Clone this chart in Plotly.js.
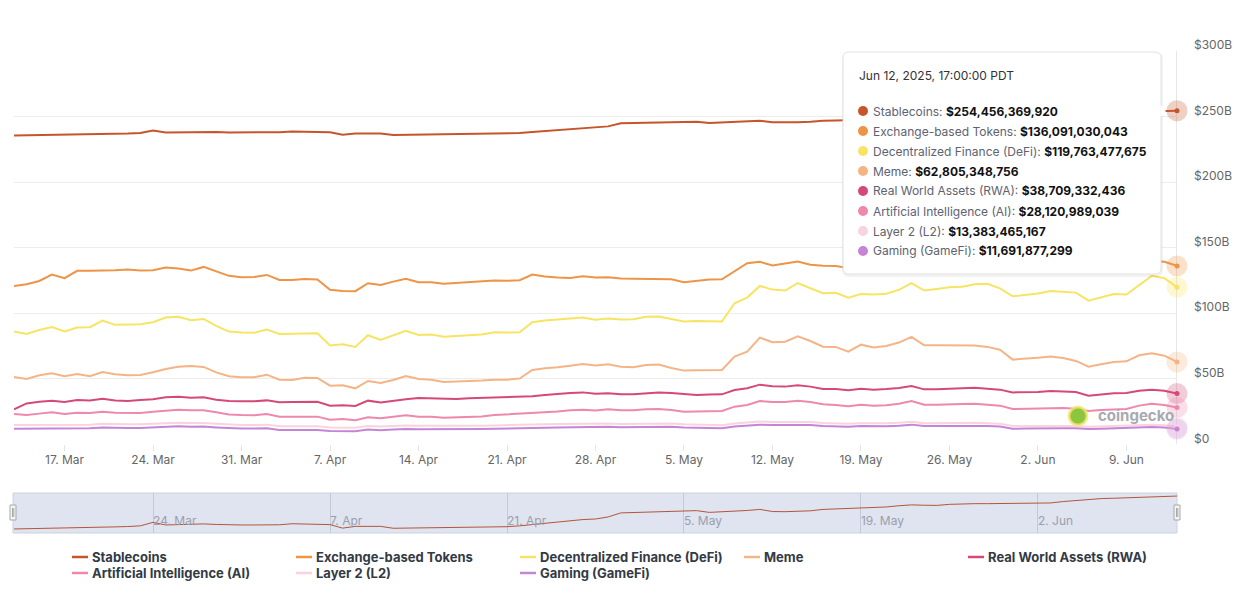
<!DOCTYPE html>
<html>
<head>
<meta charset="utf-8">
<script src="https://cdn.plot.ly/plotly-3.0.1.min.js"></script>
<style>
html,body{margin:0;padding:0;background:#ffffff;}
#chart{width:1244px;height:600px;}
</style>
</head>
<body>
<div id="chart"></div>
<script>
// ---------------- DATA (values in billions USD, daily 00:00 UTC from 13 Mar 2025) ----------------
const startDate = [2025, 2, 13];
const seriesNames = ['Stablecoins', 'Exchange-based Tokens', 'Decentralized Finance (DeFi)', 'Meme',
  'Real World Assets (RWA)', 'Artificial Intelligence (AI)', 'Layer 2 (L2)', 'Gaming (GameFi)'];
const seriesColors = ['#c5552b', '#ee9446', '#f7e463', '#f5b486', '#d4497a', '#ee88ad', '#fad3de', '#c585d6'];

const stablecoins = [
  235.6, 235.7, 235.8, 235.9, 236.0, 236.2, 236.4, 236.6, 236.8, 237.0,
  237.4, 239.4, 237.9, 238.1, 238.3, 238.5, 238.2, 237.9, 237.9, 237.9,
  237.9, 238.0, 238.6, 238.3, 238.1, 238.1, 236.1, 237.1, 237.1, 237.1,
  236.0, 236.1, 236.1, 236.4, 236.6, 236.7, 236.9, 236.8, 236.8, 236.9,
  237.4, 238.2, 238.9, 239.6, 240.3, 241.0, 241.3, 242.5, 244.8, 245.0,
  245.3, 245.8, 246.0, 246.1, 246.1, 245.1, 245.4, 246.0, 246.2, 246.8,
  245.6, 245.5, 245.6, 246.0, 246.8, 247.0, 247.2, 247.5, 247.6, 248.2,
  248.9, 249.4, 249.2, 249.1, 249.7, 250.0, 250.1, 250.1, 250.2, 250.3,
  250.3, 250.4, 250.5, 251.3, 252.0, 252.6, 253.0, 253.2, 253.4, 253.8,
  254.0, 254.2, 254.45636992];

const exchangeTokens = [
  120.8, 122.1, 124.6, 129.5, 126.7, 132.3, 132.3, 132.3, 132.8, 133.3,
  132.5, 132.8, 134.8, 134.1, 132.5, 135.3, 131.8, 128.5, 127.4, 127.7,
  129.2, 125.4, 125.4, 126.0, 125.7, 117.8, 117.0, 116.8, 122.9, 121.6,
  124.1, 126.2, 123.6, 123.6, 122.4, 123.1, 123.9, 124.4, 124.9, 124.7,
  125.2, 129.5, 128.0, 127.2, 126.9, 128.2, 127.2, 127.4, 126.4, 126.2,
  126.2, 126.4, 125.9, 123.6, 124.9, 125.7, 125.9, 131.8, 138.1, 139.2,
  136.4, 137.9, 139.4, 136.9, 136.1, 136.0, 134.5, 136.0, 135.5, 136.0,
  137.5, 140.0, 137.0, 137.5, 138.0, 138.5, 139.5, 139.5, 138.0, 134.0,
  134.5, 135.0, 136.0, 135.5, 135.0, 131.5, 133.0, 134.5, 134.5, 137.5,
  140.0, 139.2, 136.091030043];

const defi = [
  86.0, 84.2, 87.2, 89.5, 86.0, 89.0, 89.3, 94.4, 91.1, 91.1,
  91.6, 93.1, 96.7, 97.2, 94.6, 95.6, 90.3, 86.0, 85.2, 85.0,
  87.5, 84.2, 84.4, 85.0, 84.7, 75.3, 76.3, 74.3, 83.2, 79.6,
  82.9, 86.5, 83.4, 83.7, 82.1, 82.7, 83.4, 83.7, 85.5, 85.2,
  85.5, 93.1, 94.4, 95.1, 95.9, 96.7, 95.0, 95.9, 95.1, 95.4,
  97.2, 97.4, 95.6, 93.6, 94.1, 93.9, 93.6, 107.6, 111.9, 120.8,
  118.0, 117.3, 122.9, 119.0, 115.2, 115.5, 111.9, 114.7, 114.2, 114.8,
  117.8, 122.9, 117.3, 118.5, 119.8, 120.1, 122.1, 122.4, 119.0, 112.9,
  113.7, 115.0, 117.0, 116.5, 115.7, 109.6, 112.2, 114.7, 114.2, 121.1,
  128.5, 126.7, 119.763477675];

const meme = [
  51.4, 49.8, 52.6, 54.2, 51.9, 53.6, 51.9, 55.2, 53.4, 52.6,
  52.9, 54.9, 57.5, 59.2, 59.7, 59.0, 54.9, 51.9, 51.1, 51.1,
  53.1, 49.3, 49.1, 50.7, 50.6, 44.7, 45.0, 42.7, 48.3, 46.8,
  49.1, 52.1, 49.8, 49.3, 47.5, 47.8, 48.3, 48.6, 49.3, 49.3,
  50.1, 56.7, 58.0, 58.7, 60.0, 61.3, 60.1, 61.0, 59.2, 58.7,
  60.5, 60.8, 58.2, 56.2, 56.4, 56.7, 56.7, 66.9, 70.7, 81.4,
  77.8, 78.3, 82.4, 78.8, 74.5, 74.3, 70.7, 76.0, 73.8, 75.0,
  77.6, 81.9, 75.5, 75.5, 75.3, 75.3, 75.3, 74.3, 72.2, 64.6,
  65.1, 66.1, 66.9, 65.9, 63.6, 59.2, 61.0, 62.8, 63.3, 67.9,
  69.4, 67.6, 62.805348756];

const rwa = [
  26.7, 31.2, 32.5, 33.3, 32.3, 33.8, 33.5, 34.8, 33.5, 33.0,
  33.8, 34.3, 35.8, 36.3, 35.6, 35.8, 34.0, 33.0, 32.8, 32.8,
  33.5, 32.0, 32.3, 32.5, 32.5, 29.5, 29.7, 29.2, 33.3, 31.8,
  33.3, 34.3, 35.3, 35.1, 34.6, 34.6, 35.1, 35.3, 35.8, 35.8,
  36.1, 36.6, 37.6, 38.6, 39.1, 39.6, 38.5, 38.9, 38.1, 38.1,
  39.1, 39.6, 39.1, 38.1, 37.6, 37.9, 38.1, 41.4, 42.7, 45.5,
  44.2, 44.0, 45.0, 44.0, 42.2, 42.2, 41.2, 42.4, 41.7, 42.2,
  43.0, 44.5, 41.9, 41.9, 42.4, 43.0, 43.2, 42.4, 41.7, 39.6,
  39.6, 39.9, 40.7, 40.4, 39.9, 37.1, 38.1, 38.9, 39.1, 40.9,
  41.7, 40.9, 38.709332436];

const ai = [
  23.1, 22.3, 23.4, 24.4, 23.1, 24.1, 23.9, 24.9, 24.1, 23.9,
  23.9, 24.9, 25.9, 26.4, 25.9, 25.9, 24.4, 22.8, 22.3, 22.1,
  23.1, 21.1, 21.1, 21.1, 21.1, 18.8, 19.3, 18.3, 20.6, 19.8,
  20.8, 22.1, 21.1, 21.1, 20.3, 20.6, 21.1, 21.3, 22.3, 22.8,
  23.1, 23.9, 24.6, 25.1, 25.9, 26.4, 25.8, 26.7, 25.9, 25.9,
  26.7, 26.9, 26.2, 24.9, 25.1, 25.1, 25.4, 28.7, 30.0, 33.0,
  32.3, 32.3, 33.3, 32.3, 30.5, 30.0, 29.0, 30.2, 29.5, 29.8,
  31.0, 33.0, 30.2, 30.2, 30.2, 30.7, 31.0, 30.5, 29.5, 26.9,
  27.2, 27.4, 27.7, 27.7, 27.2, 25.4, 26.2, 26.4, 26.9, 29.5,
  31.0, 30.0, 28.120989039];

const layer2 = [
  14.7, 14.8, 14.8, 15.1, 14.8, 15.2, 15.0, 15.7, 15.3, 15.2,
  15.2, 15.6, 16.3, 16.5, 16.2, 16.3, 15.7, 15.0, 14.8, 14.8,
  15.0, 13.7, 13.6, 13.7, 13.7, 12.8, 12.9, 12.6, 13.9, 13.5,
  13.9, 14.3, 14.1, 14.1, 13.8, 13.9, 14.1, 14.2, 14.4, 14.5,
  14.6, 15.0, 15.3, 15.5, 15.7, 15.9, 15.7, 15.9, 15.5, 15.5,
  15.9, 16.0, 15.9, 15.3, 15.0, 14.8, 14.6, 15.9, 16.4, 17.4,
  17.0, 17.0, 17.5, 17.0, 16.2, 16.0, 15.6, 16.1, 15.8, 16.0,
  16.4, 17.2, 16.1, 16.0, 16.1, 16.2, 16.4, 16.1, 15.6, 13.9,
  14.0, 14.1, 14.3, 14.2, 14.0, 13.4, 13.7, 13.9, 14.0, 14.6,
  14.9, 14.5, 13.383465167];

const gaming = [
  11.9, 11.9, 11.9, 12.3, 12.0, 12.3, 12.2, 12.9, 12.5, 12.4,
  12.4, 12.8, 13.5, 13.7, 13.4, 13.5, 12.9, 12.2, 12.0, 12.0,
  12.3, 10.9, 10.9, 11.0, 11.0, 10.1, 10.2, 9.9, 11.2, 10.8,
  11.3, 11.7, 11.5, 11.5, 11.2, 11.3, 11.5, 11.6, 11.8, 11.9,
  12.0, 12.4, 12.7, 12.9, 13.1, 13.3, 13.1, 13.3, 13.0, 13.0,
  13.4, 13.5, 13.4, 12.8, 12.6, 12.4, 12.2, 13.5, 14.0, 15.0,
  14.7, 14.7, 15.2, 14.7, 14.0, 13.8, 13.4, 13.9, 13.6, 13.8,
  14.2, 15.0, 13.9, 13.9, 14.0, 14.1, 14.3, 14.0, 13.6, 11.9,
  12.0, 12.2, 12.4, 12.3, 12.2, 11.6, 11.9, 12.2, 12.3, 12.8,
  13.2, 12.8, 11.691877299];

const yTickValues = [0, 50, 100, 150, 200, 250, 300];
const yTickLabels = ['$0', '$50B', '$100B', '$150B', '$200B', '$250B', '$300B'];
const navigatorTicks = ['2025-03-24', '2025-04-07', '2025-04-21', '2025-05-05', '2025-05-19', '2025-06-02'];
const tooltipTitle = 'Jun 12, 2025, 17:00:00 PDT';
const watermarkText = 'coingecko';

// ---------------- BUILD ----------------
const allSeries = [stablecoins, exchangeTokens, defi, meme, rwa, ai, layer2, gaming];
const dates = [];
for (let i = 0; i < stablecoins.length; i++) {
  const d = new Date(Date.UTC(startDate[0], startDate[1], startDate[2] + i));
  dates.push(d.toISOString().slice(0, 10));
}
const lastDate = dates[dates.length - 1];

// pixel -> paper helpers (plot area: x 14..1177, y 51..533)
const L = 14, R = 1177, T = 51, B = 533, W = R - L, H = B - T;
const px = x => (x - L) / W;
const py = y => (B - y) / H;
const mainBottom = 444.3;

function fmt(v) {
  const n = Math.round(v * 1e9);
  return '$' + n.toString().replace(/\B(?=(\d{3})+(?!\d))/g, ',');
}
function rr(x0, y0, x1, y1, r) {
  const P = (x, y) => px(x).toFixed(6) + ',' + py(y).toFixed(6);
  return 'M' + P(x0 + r, y0) + ' L' + P(x1 - r, y0) + ' Q' + P(x1, y0) + ' ' + P(x1, y0 + r) +
    ' L' + P(x1, y1 - r) + ' Q' + P(x1, y1) + ' ' + P(x1 - r, y1) +
    ' L' + P(x0 + r, y1) + ' Q' + P(x0, y1) + ' ' + P(x0, y1 - r) +
    ' L' + P(x0, y0 + r) + ' Q' + P(x0, y0) + ' ' + P(x0 + r, y0) + ' Z';
}

const traces = allSeries.map((s, i) => ({
  type: 'scatter', mode: 'lines', x: dates, y: s, xaxis: 'x', yaxis: 'y',
  name: seriesNames[i], line: { color: seriesColors[i], width: 2 }, hoverinfo: 'skip'
}));
const lastVals = allSeries.map(s => s[s.length - 1]);
traces.push({
  type: 'scatter', mode: 'markers', x: lastVals.map(() => lastDate), y: lastVals, xaxis: 'x', yaxis: 'y',
  marker: { size: 21, color: seriesColors, opacity: 0.28, line: { width: 0 } }, cliponaxis: false, hoverinfo: 'skip', showlegend: false
});
traces.push({
  type: 'scatter', mode: 'markers', x: lastVals.map(() => lastDate), y: lastVals, xaxis: 'x', yaxis: 'y',
  marker: { size: 5, color: seriesColors, line: { width: 0 } }, cliponaxis: false, hoverinfo: 'skip', showlegend: false
});
traces.push({
  type: 'scatter', mode: 'lines', x: dates, y: stablecoins, xaxis: 'x2', yaxis: 'y2',
  line: { color: '#b3553a', width: 1 }, hoverinfo: 'skip', showlegend: false
});

const shapes = [];
const annotations = [];

// navigator background
shapes.push({ type: 'rect', xref: 'paper', yref: 'paper', x0: px(13), x1: px(1177), y0: py(533), y1: py(493),
  fillcolor: '#dfe4f0', line: { color: '#cbd2e0', width: 1 }, layer: 'below' });
// crosshair
shapes.push({ type: 'line', xref: 'x', yref: 'paper', x0: lastDate, x1: lastDate, y0: py(mainBottom), y1: py(51),
  line: { color: '#cfcfcf', width: 1 }, layer: 'below' });
// navigator handles
[[10, 16], [1174, 1180]].forEach(h => {
  shapes.push({ type: 'rect', xref: 'paper', yref: 'paper', x0: px(h[0]), x1: px(h[1]), y0: py(520), y1: py(505),
    fillcolor: '#f4f4f4', line: { color: '#a8a8a8', width: 1 }, layer: 'above' });
  shapes.push({ type: 'line', xref: 'paper', yref: 'paper', x0: px(h[0] + 2.5), x1: px(h[0] + 2.5), y0: py(517), y1: py(508),
    line: { color: '#a8a8a8', width: 1 }, layer: 'above' });
  shapes.push({ type: 'line', xref: 'paper', yref: 'paper', x0: px(h[0] + 3.8), x1: px(h[0] + 3.8), y0: py(517), y1: py(508),
    line: { color: '#a8a8a8', width: 1 }, layer: 'above' });
});
// tooltip shadow, box, pointer
shapes.push({ type: 'path', xref: 'paper', yref: 'paper', path: rr(842, 52, 1163, 277, 7),
  fillcolor: 'rgba(0,0,0,0.05)', line: { width: 0 }, layer: 'above' });
shapes.push({ type: 'path', xref: 'paper', yref: 'paper', path: rr(843, 52, 1161, 274, 6),
  fillcolor: '#ffffff', line: { color: '#e3e3e3', width: 1 }, layer: 'above' });
shapes.push({ type: 'path', xref: 'paper', yref: 'paper',
  path: 'M' + px(1160.5) + ',' + py(105) + ' L' + px(1166) + ',' + py(111) + ' L' + px(1160.5) + ',' + py(117) + ' Z',
  fillcolor: '#ffffff', line: { width: 0 }, layer: 'above' });

annotations.push({ xref: 'paper', yref: 'paper', x: px(857), y: py(75), xanchor: 'left', yanchor: 'middle',
  showarrow: false, text: tooltipTitle, font: { family: 'Inter, sans-serif', size: 12, color: '#333333' } });
seriesNames.forEach((n, i) => {
  const yy = 111 + 20 * i;
  shapes.push({ type: 'circle', xref: 'paper', yref: 'paper', xsizemode: 'pixel', ysizemode: 'pixel',
    xanchor: px(863), yanchor: py(yy), x0: -5, x1: 5, y0: -5, y1: 5,
    fillcolor: seriesColors[i], line: { width: 0 }, layer: 'above' });
  annotations.push({ xref: 'paper', yref: 'paper', x: px(871), y: py(yy), xanchor: 'left', yanchor: 'middle',
    showarrow: false, align: 'left',
    text: '<span style="color:#5d6270">' + n + ': </span><span style="color:#111111"><b>' + fmt(lastVals[i]) + '</b></span>',
    font: { family: 'Inter, sans-serif', size: 12, color: '#5d6270' } });
});

// custom legend
const legendCols = [72, 296, 520, 744, 968];
const legendRows = [557, 573];
seriesNames.forEach((n, i) => {
  const cx = legendCols[i % 5], cy = legendRows[Math.floor(i / 5)];
  shapes.push({ type: 'line', xref: 'paper', yref: 'paper', x0: px(cx), x1: px(cx + 16), y0: py(cy), y1: py(cy),
    line: { color: seriesColors[i], width: 2.5 } });
  annotations.push({ xref: 'paper', yref: 'paper', x: px(cx + 18), y: py(cy), xanchor: 'left', yanchor: 'middle',
    showarrow: false, text: '<b>' + n + '</b>', font: { family: 'Inter, sans-serif', size: 13, color: '#333a45' } });
});

// watermark
shapes.push({ type: 'circle', xref: 'paper', yref: 'paper', xsizemode: 'pixel', ysizemode: 'pixel',
  xanchor: px(1078), yanchor: py(416), x0: -9, x1: 9, y0: -9, y1: 9,
  fillcolor: '#8cc63f', line: { color: 'rgba(246,228,110,0.75)', width: 3 }, layer: 'above' });
annotations.push({ xref: 'paper', yref: 'paper', x: px(1096), y: py(415), xanchor: 'left', yanchor: 'middle',
  showarrow: false, text: '<b>' + watermarkText + '</b>', font: { family: 'Inter, sans-serif', size: 15, color: '#a7aab0' } });

const layout = {
  width: 1244, height: 600,
  margin: { l: L, r: 1244 - R, t: T, b: 600 - B, pad: 0 },
  paper_bgcolor: '#ffffff', plot_bgcolor: 'rgba(0,0,0,0)',
  showlegend: false, hovermode: false,
  font: { family: 'Inter, sans-serif', size: 12, color: '#666666' },
  xaxis: {
    type: 'date', anchor: 'y', domain: [0, 1], range: [dates[0], lastDate],
    tick0: '2025-03-17', dtick: 7 * 86400000, tickformat: '%-d. %b',
    showgrid: false, zeroline: false, showline: false,
    ticks: 'outside', ticklen: 6, tickcolor: '#e4e4e4', tickwidth: 1, ticklabelstandoff: -2,
    tickfont: { family: 'Inter, sans-serif', size: 12, color: '#666666' }, fixedrange: true
  },
  yaxis: {
    anchor: 'x', domain: [py(mainBottom), 1], range: [0, 300], side: 'right',
    tickvals: yTickValues, ticktext: yTickLabels,
    gridcolor: '#ececec', gridwidth: 1, zeroline: false, showline: false, ticks: '',
    ticklabelstandoff: 16, ticklabelshift: -6,
    tickfont: { family: 'Inter, sans-serif', size: 12, color: '#666666' }, fixedrange: true
  },
  xaxis2: {
    type: 'date', anchor: 'y2', domain: [0, 1], range: [dates[0], lastDate],
    tickvals: navigatorTicks, tickformat: '%-d. %b',
    showgrid: true, gridcolor: '#c3c9d7', gridwidth: 1, zeroline: false, showline: false, ticks: '',
    ticklabelposition: 'inside right',
    tickfont: { family: 'Inter, sans-serif', size: 12, color: '#9aa0ad' }, fixedrange: true
  },
  yaxis2: {
    anchor: 'x2', domain: [0, 40 / H], range: [233.3, 256.2],
    showgrid: false, showticklabels: false, zeroline: false, showline: false, fixedrange: true
  },
  shapes: shapes,
  annotations: annotations
};

Plotly.newPlot('chart', traces, layout, { displayModeBar: false, staticPlot: true });
</script>
</body>
</html>
